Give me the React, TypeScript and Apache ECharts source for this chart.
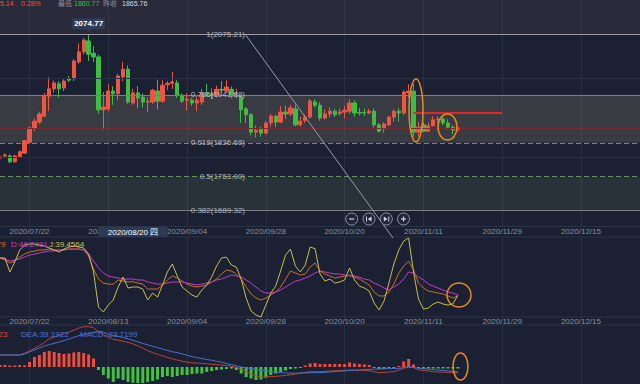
import React, { useEffect, useRef } from "react";
import * as echarts from "echarts";

const tradingDays = [
  "2020/07/14", "2020/07/15", "2020/07/16", "2020/07/17", "2020/07/20", "2020/07/21", "2020/07/22", "2020/07/23", "2020/07/24", "2020/07/27",
  "2020/07/28", "2020/07/29", "2020/07/30", "2020/07/31", "2020/08/03", "2020/08/04", "2020/08/05", "2020/08/06", "2020/08/07", "2020/08/10",
  "2020/08/11", "2020/08/12", "2020/08/13", "2020/08/14", "2020/08/17", "2020/08/18", "2020/08/19", "2020/08/20", "2020/08/21", "2020/08/24",
  "2020/08/25", "2020/08/26", "2020/08/27", "2020/08/28", "2020/08/31", "2020/09/01", "2020/09/02", "2020/09/03", "2020/09/04", "2020/09/07",
  "2020/09/08", "2020/09/09", "2020/09/10", "2020/09/11", "2020/09/14", "2020/09/15", "2020/09/16", "2020/09/17", "2020/09/18", "2020/09/21",
  "2020/09/22", "2020/09/23", "2020/09/24", "2020/09/25", "2020/09/28", "2020/09/29", "2020/09/30", "2020/10/01", "2020/10/02", "2020/10/05",
  "2020/10/06", "2020/10/07", "2020/10/08", "2020/10/09", "2020/10/12", "2020/10/13", "2020/10/14", "2020/10/15", "2020/10/16", "2020/10/19",
  "2020/10/20", "2020/10/21", "2020/10/22", "2020/10/23", "2020/10/26", "2020/10/27", "2020/10/28", "2020/10/29", "2020/10/30", "2020/11/02",
  "2020/11/03", "2020/11/04", "2020/11/05", "2020/11/06", "2020/11/09", "2020/11/10", "2020/11/11", "2020/11/12", "2020/11/13", "2020/11/16",
  "2020/11/17", "2020/11/18", "2020/11/19", "2020/11/20",
];
const futureDays = [
  "2020/11/21", "2020/11/22", "2020/11/23", "2020/11/24", "2020/11/25", "2020/11/26", "2020/11/27", "2020/11/28", "2020/11/29", "2020/11/30",
  "2020/12/01", "2020/12/02", "2020/12/03", "2020/12/04", "2020/12/05", "2020/12/06", "2020/12/07", "2020/12/08", "2020/12/09", "2020/12/10",
  "2020/12/11", "2020/12/12", "2020/12/13", "2020/12/14", "2020/12/15", "2020/12/16", "2020/12/17", "2020/12/18", "2020/12/19", "2020/12/20",
  "2020/12/21", "2020/12/22", "2020/12/23", "2020/12/24", "2020/12/25", "2020/12/26", "2020/12/27",
];
const categories = [...tradingDays, ...futureDays];
const labelIndexes = [6, 22, 38, 54, 70, 86, 102, 118];

// [open, close, low, high]
const candles = [
  [1803, 1806, 1798, 1810], [1808, 1810, 1804, 1814], [1808, 1795, 1792, 1812], [1795, 1808, 1793, 1810], [1806, 1817, 1804, 1820],
  [1814, 1841, 1812, 1843], [1838, 1869, 1835, 1872], [1869, 1884, 1862, 1890], [1882, 1900, 1878, 1905], [1895, 1939, 1893, 1946],
  [1939, 1955, 1906, 1981], [1955, 1968, 1947, 1973], [1966, 1955, 1936, 1972], [1957, 1972, 1950, 1976], [1977, 1974, 1970, 1983],
  [1977, 2016, 1972, 2020], [2014, 2036, 2010, 2055], [2036, 2062, 2030, 2066], [2060, 2031, 2016, 2074.77], [2033, 2025, 2014, 2049],
  [2025, 1909, 1900, 2030], [1909, 1915, 1865, 1948], [1911, 1950, 1905, 1965], [1950, 1944, 1920, 1961], [1944, 1983, 1930, 1988],
  [1981, 1998, 1972, 2014], [1998, 1926, 1922, 2006], [1924, 1946, 1920, 1955], [1946, 1935, 1913, 1961], [1937, 1926, 1915, 1945],
  [1926, 1927, 1904, 1937], [1926, 1952, 1922, 1955], [1950, 1928, 1910, 1975], [1928, 1963, 1924, 1974], [1964, 1967, 1952, 1972],
  [1967, 1970, 1955, 1992], [1968, 1941, 1935, 1974], [1941, 1928, 1924, 1945], [1930, 1932, 1908, 1945], [1930, 1924, 1918, 1935],
  [1924, 1930, 1906, 1936], [1926, 1946, 1920, 1955], [1946, 1944, 1938, 1966], [1944, 1940, 1932, 1956], [1941, 1954, 1936, 1962],
  [1954, 1952, 1946, 1972], [1950, 1959, 1946, 1974], [1954, 1941, 1934, 1960], [1944, 1946, 1935, 1955], [1937, 1909, 1880, 1940],
  [1911, 1898, 1880, 1915], [1898, 1860, 1853, 1902], [1860, 1864, 1848, 1875], [1866, 1858, 1850, 1872], [1858, 1880, 1855, 1884],
  [1880, 1895, 1872, 1900], [1895, 1882, 1871, 1898], [1882, 1904, 1880, 1917], [1904, 1900, 1889, 1918], [1900, 1913, 1895, 1920],
  [1911, 1876, 1873, 1920], [1876, 1884, 1872, 1894], [1886, 1893, 1880, 1899], [1893, 1928, 1890, 1933], [1926, 1919, 1914, 1932],
  [1919, 1891, 1885, 1925], [1891, 1900, 1888, 1910], [1900, 1906, 1893, 1915], [1906, 1898, 1894, 1912], [1901, 1904, 1896, 1912],
  [1904, 1908, 1890, 1918], [1906, 1924, 1900, 1932], [1924, 1902, 1894, 1930], [1903, 1902, 1897, 1913], [1903, 1902, 1896, 1912],
  [1902, 1906, 1900, 1911], [1906, 1876, 1870, 1912], [1876, 1862, 1859, 1880], [1867, 1878, 1859, 1882], [1876, 1893, 1873, 1896],
  [1893, 1906, 1883, 1910], [1906, 1902, 1883, 1912], [1902, 1948, 1898, 1952], [1946, 1950, 1935, 1965], [1950, 1860, 1850, 1966],
  [1860, 1871, 1850, 1883], [1876, 1862, 1860, 1882], [1862, 1874, 1860, 1881], [1874, 1887, 1872, 1895], [1888, 1889, 1880, 1895],
  [1889, 1880, 1875, 1896], [1880, 1871, 1866, 1888], [1871, 1865, 1856, 1875], [1865, 1867, 1862, 1870],
];

const kValues = [
  64.1, 62.4, 59.8, 61.5, 64.9, 67.5, 69.2, 70.0, 70.9, 70.9,
  71.7, 70.9, 70.9, 70.9, 71.7, 71.7, 71.7, 70.9, 65.8, 54.7,
  46.2, 42.8, 41.9, 41.9, 45.4, 44.5, 43.7, 43.99, 42.8, 41.9,
  37.7, 37.7, 37.7, 41.1, 45.4, 48.8, 47.1, 44.5, 41.9, 40.2,
  39.4, 40.2, 41.1, 43.7, 46.2, 50.5, 53.9, 53.0, 50.5, 46.2,
  39.4, 33.5, 30.1, 28.4, 30.1, 32.6, 35.2, 39.4, 46.2, 53.0,
  51.3, 49.6, 50.5, 56.4, 59.8, 53.0, 50.5, 48.8, 47.1, 47.9,
  48.8, 49.6, 47.9, 46.2, 43.7, 41.1, 35.2, 31.8, 31.8, 35.2,
  41.9, 51.3, 57.3, 61.5, 53.9, 42.8, 38.6, 36.0, 35.2, 34.3,
  33.5, 31.8, 30.1, 31.8,
];
const dValues = [
  64.1, 63.2, 61.5, 62.4, 63.2, 64.9, 66.6, 67.5, 68.3, 69.2,
  70.0, 70.0, 70.9, 70.9, 71.7, 71.7, 71.7, 70.9, 67.5, 61.5,
  55.6, 51.3, 48.8, 47.9, 47.1, 46.2, 46.2, 46.25, 45.4, 45.4,
  43.7, 42.8, 41.9, 41.9, 42.8, 43.7, 43.7, 43.7, 42.8, 41.9,
  41.1, 41.9, 42.8, 43.7, 45.4, 46.2, 47.9, 49.6, 48.8, 47.9,
  45.4, 42.8, 39.4, 36.0, 34.3, 34.3, 35.2, 36.9, 39.4, 41.9,
  44.5, 45.4, 47.1, 48.8, 51.3, 53.0, 52.2, 51.3, 50.5, 50.5,
  49.6, 48.8, 48.8, 47.9, 46.2, 45.4, 42.8, 41.1, 38.6, 36.9,
  39.4, 41.9, 46.2, 52.2, 51.3, 47.9, 45.4, 41.9, 40.2, 38.6,
  36.9, 35.2, 34.3, 32.6,
];
const jValues = [
  64.1, 64.1, 52.2, 60.7, 70.9, 75.1, 76.0, 76.0, 75.1, 74.3,
  72.6, 70.9, 69.2, 71.7, 73.4, 74.3, 73.4, 72.6, 67.5, 52.2,
  22.4, 18.2, 24.1, 28.4, 39.4, 47.9, 38.6, 39.46, 39.4, 37.7,
  28.4, 34.3, 30.9, 41.1, 52.2, 59.0, 48.8, 39.4, 36.0, 32.6,
  30.9, 36.9, 41.1, 47.9, 57.3, 64.1, 64.9, 58.1, 56.4, 46.2,
  30.1, 19.0, 15.6, 13.9, 24.1, 34.3, 40.2, 53.0, 66.6, 71.7,
  57.3, 52.2, 58.1, 73.4, 72.0, 50.5, 44.5, 46.2, 42.8, 43.7,
  45.4, 55.6, 45.4, 40.2, 38.6, 36.0, 25.8, 19.9, 27.5, 42.8,
  59.0, 70.9, 78.5, 81.1, 52.2, 29.2, 20.7, 21.6, 25.0, 26.7,
  25.0, 24.1, 25.0, 32.6,
];

const difValues = [
  18, 18, 18, 18, 18, 20.7, 24, 27.9, 32.1, 36.6,
  42.3, 45, 47.4, 49.8, 52.2, 55.2, 58.4, 60.5, 60.5, 58.8,
  52.7, 48.5, 44.4, 41.4, 40.2, 38.6, 37.1, 34.7, 31.8, 28.4,
  24.6, 21.6, 19.2, 16.8, 14.3, 12.2, 10.4, 8.7, 7.2, 6.3,
  5.9, 5.4, 4.8, 4.2, 3.5, 2.9, 2.3, 1.2, -0.6, -3.3,
  -6.9, -10.4, -13.4, -15.3, -14.9, -14.4, -14, -13.4, -12.6, -11.7,
  -10.5, -9.2, -8, -7.1, -7.1, -7.1, -6.6, -6.2, -5.7, -5.3,
  -5, -4.5, -4.8, -5.1, -5.3, -5.6, -7.1, -8.6, -8.1, -7.5,
  -7.1, -4.5, -2, -0.5, -0.8, -4.4, -5.3, -6, -7.1, -7.4,
  -7.7, -8, -8.4, -8.6,
];
const deaValues = [
  18, 18, 18, 18, 18, 19.5, 22.7, 25.7, 28.5, 31.5,
  33.5, 35.4, 37.5, 39.6, 42, 44.6, 47, 48.6, 50.3, 51.9,
  53.7, 52.4, 49.2, 47.3, 45.9, 44.3, 42.3, 40.1, 37.7, 35.3,
  33.2, 31.1, 29.1, 27, 24.9, 22.8, 21.6, 19.7, 17.6, 15.5,
  14.3, 12.5, 11.3, 10.1, 8.7, 7.2, 5.3, 3.5, 1.7, 0,
  -1.2, -2.4, -3.6, -4.8, -5.9, -6.8, -7.8, -8.6, -8.9, -9.2,
  -9.3, -9.2, -8.9, -8.7, -8.5, -8.4, -8, -7.4, -6.9, -6.3,
  -5.9, -5.3, -4.8, -4.4, -3.9, -3.5, -3.3, -3, -2.7, -2.4,
  -2.3, -2, -0.8, 0.5, -0.8, -2, -2.6, -3.2, -3.8, -4.5,
  -5.1, -5.9, -6.6, -7.1,
];
const macdValues = [
  3, 3, 2.3, 2.3, 3, 2.3, 7.5, 15, 18, 22.5,
  24, 22.5, 21, 19.5, 20.3, 21.8, 22.5, 21, 18.8, 12.8,
  -4.5, -12, -17.3, -22.5, -17.3, -19.5, -22.5, -23.72, -24, -24,
  -22.5, -21, -18.8, -15, -13.5, -15, -13.5, -12, -12, -10.5,
  -9.8, -9.8, -7.5, -6, -4.5, -3.8, -3, -2.3, -4.5, -9.8,
  -15, -17.3, -19.5, -18.8, -15.8, -12, -9.8, -7.5, -5.3, -3,
  -2.3, -1.5, 2.3, 5.3, 6, 4.5, 4.5, 4.5, 4.5, 4.5,
  4.5, 6.8, 5.3, 4.5, 3.8, 3, -1.5, -3, -3, -1.5,
  -1.5, 1.5, 8.3, 12, 3.8, -1.5, -3, -2.3, -2.3, -2.3,
  -2.3, -2.3, -2.3, -2.3,
];

const fibNames = ["1", "0.786", "0.618", "0.5", "0.382"];
const fibPrices = [2075.21, 1941.88, 1836.68, 1763.0, 1689.32];
const priceGridLines = [1978.7, 1805.5];
const prevClosePrice = 1869;
const resistancePrice = 1901.5;
const resistanceFrom = "2020/11/09";
const resistanceTo = "2020/11/29";
const highDate = "2020/08/07";
const highValue = 2074.77;
const lastDate = "2020/11/20";
const lastPrice = 1868;
const pointerDate = "2020/08/20";
const pointerLabel = "2020/08/20 四";

const headerItems = [
  { text: "5.14", color: "#e9503d", x: 0 },
  { text: "0.28%", color: "#e9503d", x: 21 },
  { text: "最低", color: "#8a8f9b", x: 58 },
  { text: "1860.77", color: "#3fbf43", x: 74 },
  { text: "昨收", color: "#8a8f9b", x: 103 },
  { text: "1865.76", color: "#d9dbe0", x: 122 },
];
const kdjLegend = [
  { text: "K:43.9879", color: "#d0761f", x: 5.5, align: "right" },
  { text: "D:46.2491", color: "#c63fd0", x: 11, align: "left" },
  { text: "J:39.4564", color: "#cfc24a", x: 49, align: "left" },
];
const macdLegend = [
  { text: "DIF:27.3323", color: "#d24a3e", x: 7.5, align: "right" },
  { text: "DEA:39.1922", color: "#4a74d6", x: 21, align: "left" },
  { text: "MACD:-23.7199", color: "#4a74d6", x: 80, align: "left" },
];

const UP = "#ee5543";
const DOWN = "#3fbd43";
const BG = "#1b2133";
const FONT = "Liberation Sans, Noto Sans CJK SC, sans-serif";

const showAt = (i: number) => labelIndexes.indexOf(i) >= 0;

function makeXAxis(gridIndex: number, showLabel: boolean, position: string, margin: number) {
  return {
    type: "category",
    gridIndex,
    data: categories,
    boundaryGap: false,
    position,
    axisLine: { show: false },
    axisTick: { show: false },
    axisLabel: { show: showLabel, interval: (i: number) => showAt(i), color: "#8a909e", fontSize: 8, fontFamily: FONT, margin },
    splitLine: { show: true, interval: (i: number) => showAt(i), lineStyle: { color: "#283046", width: 1 } },
  };
}

export default function App() {
  const ref = useRef<HTMLDivElement>(null);
  useEffect(() => {
    const el = ref.current;
    if (!el) return;
    const chart = echarts.init(el, undefined, { renderer: "svg", width: 640, height: 384 });
    const gridLeft = -0.68;
    const gridWidth = 4.946 * (categories.length - 1);
    const option: any = {
      animation: false,
      backgroundColor: BG,
      grid: [
        { left: gridLeft, width: gridWidth, top: 0, height: 226 },
        { left: gridLeft, width: gridWidth, top: 237, height: 82 },
        { left: gridLeft, width: gridWidth, top: 325, height: 59 },
      ],
      xAxis: [makeXAxis(0, true, "bottom", 1.5), makeXAxis(1, false, "bottom", 0), makeXAxis(2, true, "top", 0)],
      yAxis: [
        { gridIndex: 0, type: "value", min: 1654.25, max: 2149.76, show: false, splitLine: { show: false } },
        { gridIndex: 1, type: "value", min: 12.24, max: 81.94, show: false, splitLine: { show: false } },
        { gridIndex: 2, type: "value", min: -25.5, max: 63, show: false, splitLine: { show: false } },
      ],
      series: [
        {
          type: "candlestick",
          xAxisIndex: 0,
          yAxisIndex: 0,
          data: candles,
          barWidth: 3.8,
          itemStyle: { color: UP, color0: DOWN, borderColor: UP, borderColor0: DOWN, borderWidth: 1 },
          markArea: {
            silent: true,
            data: [
              [{ yAxis: 2149.76, itemStyle: { color: "rgba(85,68,85,0.26)" } }, { yAxis: fibPrices[0] }],
              [{ yAxis: fibPrices[1], itemStyle: { color: "rgba(140,128,112,0.27)" } }, { yAxis: fibPrices[2] }],
              [{ yAxis: fibPrices[3], itemStyle: { color: "rgba(95,125,85,0.2)" } }, { yAxis: fibPrices[4] }],
            ],
          },
          markLine: {
            silent: true,
            symbol: "none",
            label: { show: false },
            data: [
              ...priceGridLines.map((p) => ({ yAxis: p, lineStyle: { color: "#283046", width: 1, type: "solid" } })),
              { yAxis: prevClosePrice, lineStyle: { color: "#7a2b30", width: 1, type: "solid" } },
              { yAxis: fibPrices[0], lineStyle: { color: "#9a9ba3", width: 1, type: "solid" } },
              { yAxis: fibPrices[1], lineStyle: { color: "#7c7d84", width: 1, type: "solid" } },
              { yAxis: fibPrices[2], lineStyle: { color: "#6d9360", width: 1, type: [5, 3] } },
              { yAxis: fibPrices[3], lineStyle: { color: "#6d9360", width: 1, type: [5, 3] } },
              { yAxis: fibPrices[4], lineStyle: { color: "#7c7d84", width: 1, type: "solid" } },
              [
                { coord: [resistanceFrom, resistancePrice], lineStyle: { color: "#e3262a", width: 2, type: "solid" } },
                { coord: [resistanceTo, resistancePrice] },
              ],
            ],
          },
          markPoint: {
            silent: true,
            data: [
              {
                coord: [highDate, highValue],
                value: highValue,
                symbol: "path://M0 0H34V11H19L17 14L15 11H0Z",
                symbolSize: [33, 14],
                symbolKeepAspect: false,
                symbolOffset: [0, -9],
                itemStyle: { color: "#2d3c58" },
                label: {
                  show: true,
                  position: "inside",
                  offset: [0, -1.5],
                  formatter: String(highValue),
                  color: "#ffffff",
                  fontSize: 8,
                  fontWeight: "bold",
                  fontFamily: FONT,
                },
              },
            ],
          },
          z: 3,
        },
        {
          type: "scatter",
          xAxisIndex: 0,
          yAxisIndex: 0,
          data: [[lastDate, lastPrice]],
          symbolSize: 4,
          itemStyle: { color: "#ff2d2d", shadowBlur: 8, shadowColor: "#ff0000" },
          z: 5,
        },
        { type: "line", xAxisIndex: 1, yAxisIndex: 1, data: kValues, showSymbol: false, lineStyle: { color: "#c9701f", width: 1 } },
        { type: "line", xAxisIndex: 1, yAxisIndex: 1, data: dValues, showSymbol: false, lineStyle: { color: "#c23cc9", width: 1 } },
        { type: "line", xAxisIndex: 1, yAxisIndex: 1, data: jValues, showSymbol: false, lineStyle: { color: "#c9bf48", width: 1 } },
        {
          type: "bar",
          xAxisIndex: 2,
          yAxisIndex: 2,
          data: macdValues,
          barWidth: 3,
          itemStyle: { color: (p: any) => (p.value >= 0 ? "#f04b3b" : "#3ec43e") },
        },
        { type: "line", xAxisIndex: 2, yAxisIndex: 2, data: difValues, showSymbol: false, lineStyle: { color: "#b6443b", width: 1 } },
        { type: "line", xAxisIndex: 2, yAxisIndex: 2, data: deaValues, showSymbol: false, lineStyle: { color: "#4670d2", width: 1 } },
      ],
    };
    chart.setOption(option);

    const py = (p: number) => chart.convertToPixel({ yAxisIndex: 0 }, p) as number;
    const px = (c: string) => chart.convertToPixel({ xAxisIndex: 0 }, c) as number;
    const g: any[] = [];
    [226.5, 237, 317, 325].forEach((y) =>
      g.push({ type: "line", shape: { x1: 0, y1: y, x2: 640, y2: y }, style: { stroke: "#2b3347", lineWidth: 1 }, z: 1 })
    );
    fibPrices.forEach((p, i) =>
      g.push({
        type: "text",
        x: 245,
        y: py(p),
        z: 50,
        style: {
          text: `${fibNames[i]}(${p.toFixed(2)})`,
          fill: "rgba(205,207,214,0.85)",
          fontSize: 8,
          fontFamily: FONT,
          align: "right",
          verticalAlign: "middle",
        },
      })
    );
    g.push({ type: "line", shape: { x1: 245, y1: py(fibPrices[0]), x2: 393, y2: 238 }, style: { stroke: "#9a9ca5", lineWidth: 1 }, z: 50 });
    const ell = [
      [416, 110.5, 7, 31.5],
      [447.5, 127, 9.5, 13],
      [459, 295, 12, 12],
      [460.5, 366.5, 7.5, 13.5],
    ];
    ell.forEach(([cx, cy, rx, ry]) =>
      g.push({ type: "ellipse", shape: { cx, cy, rx, ry }, style: { fill: "none", stroke: "#e38a1e", lineWidth: 1.5 }, z: 60 })
    );
    const bx = [351.7, 369, 386.3, 403.5];
    const by = 219;
    const icon = "#d3d6dd";
    bx.forEach((cx) =>
      g.push({ type: "circle", shape: { cx, cy: by, r: 6 }, style: { fill: "#202739", stroke: "#8e94a3", lineWidth: 1 }, z: 60 })
    );
    g.push({ type: "line", shape: { x1: bx[0] - 2.5, y1: by, x2: bx[0] + 2.5, y2: by }, style: { stroke: icon, lineWidth: 1.2 }, z: 61 });
    g.push({ type: "line", shape: { x1: bx[1] - 2.5, y1: by - 2.5, x2: bx[1] - 2.5, y2: by + 2.5 }, style: { stroke: icon, lineWidth: 1 }, z: 61 });
    g.push({ type: "polygon", shape: { points: [[bx[1] + 2.5, by - 2.5], [bx[1] + 2.5, by + 2.5], [bx[1] - 1.2, by]] }, style: { fill: icon }, z: 61 });
    g.push({ type: "line", shape: { x1: bx[2] + 2.5, y1: by - 2.5, x2: bx[2] + 2.5, y2: by + 2.5 }, style: { stroke: icon, lineWidth: 1 }, z: 61 });
    g.push({ type: "polygon", shape: { points: [[bx[2] - 2.5, by - 2.5], [bx[2] - 2.5, by + 2.5], [bx[2] + 1.2, by]] }, style: { fill: icon }, z: 61 });
    g.push({ type: "line", shape: { x1: bx[3] - 2.5, y1: by, x2: bx[3] + 2.5, y2: by }, style: { stroke: icon, lineWidth: 1.2 }, z: 61 });
    g.push({ type: "line", shape: { x1: bx[3], y1: by - 2.5, x2: bx[3], y2: by + 2.5 }, style: { stroke: icon, lineWidth: 1.2 }, z: 61 });
    const pxp = px(pointerDate);
    g.push({ type: "rect", shape: { x: pxp - 34.5, y: 227, width: 69, height: 10 }, style: { fill: "#2e3a55" }, z: 70 });
    g.push({
      type: "text",
      x: pxp,
      y: 232,
      z: 71,
      style: { text: pointerLabel, fill: "#ffffff", fontSize: 8, fontFamily: FONT, align: "center", verticalAlign: "middle" },
    });
    headerItems.forEach((h) =>
      g.push({
        type: "text",
        x: h.x,
        y: 3.5,
        z: 70,
        style: { text: h.text, fill: h.color, fontSize: 7, fontFamily: FONT, align: "left", verticalAlign: "middle" },
      })
    );
    kdjLegend.forEach((h) =>
      g.push({
        type: "text",
        x: h.x,
        y: 244,
        z: 70,
        style: { text: h.text, fill: h.color, fontSize: 8, fontFamily: FONT, align: h.align, verticalAlign: "middle" },
      })
    );
    macdLegend.forEach((h) =>
      g.push({
        type: "text",
        x: h.x,
        y: 334,
        z: 70,
        style: { text: h.text, fill: h.color, fontSize: 8, fontFamily: FONT, align: h.align, verticalAlign: "middle" },
      })
    );
    chart.setOption({ graphic: g });
    return () => chart.dispose();
  }, []);
  return <div ref={ref} style={{ position: "fixed", left: 0, top: 0, width: 640, height: 384 }} />;
}
